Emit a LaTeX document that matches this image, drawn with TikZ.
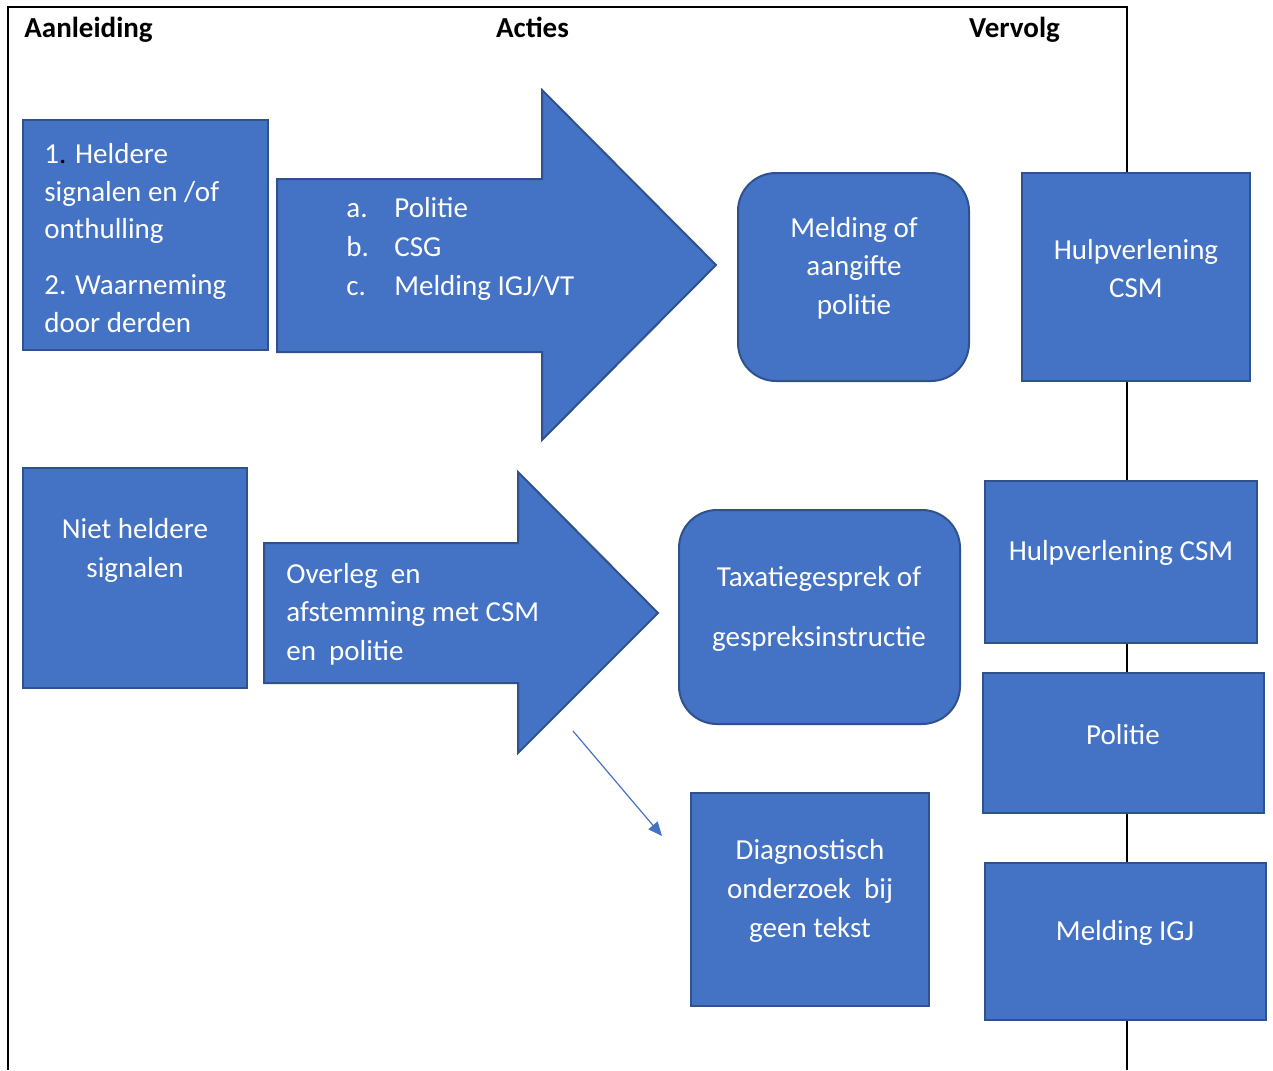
\documentclass[tikz,border=0pt]{standalone}
\usepackage{fontspec}
\setmainfont{Carlito}
\usetikzlibrary{arrows.meta,calc}
\definecolor{boxfill}{HTML}{4472C4}
\definecolor{boxline}{HTML}{2F528F}
\tikzset{
  block/.style={
    draw=boxline,
    fill=boxfill,
    line width=1pt,
    inner sep=0pt
  },
  roundblock/.style={block,rounded corners=19pt},
  bigarrow/.style={
    draw=boxline,
    fill=boxfill,
    line width=1pt,
    line join=miter
  },
  boxtext/.style={
    text=white,
    font=\fontsize{14.5}{19.3}\selectfont,
    align=center,
    inner sep=0pt
  },
  listtext/.style={boxtext,align=left,anchor=west},
  header/.style={
    text=black,
    font=\fontsize{14.5}{18}\selectfont\bfseries,
    inner sep=0pt,
    anchor=base
  },
  frameline/.style={draw=black,line width=1.2pt},
  pointer/.style={
    -{Triangle[length=7pt,width=6pt]},
    draw=boxfill,
    line width=0.6pt
  }
}

\begin{document}
\begin{tikzpicture}[x=0.5pt,y=-0.5pt]
  \useasboundingbox (0,0) rectangle (1273,1070);

  % Open frame and the column line behind the boxes.
  \draw[frameline] (8,1070) -- (8,7) -- (1127,7) -- (1127,1070);

  % Column headers.
  \node[header] (aanleiding) at (88.5,38) {Aanleiding};
  \node[header] (acties) at (532.5,38) {Acties};
  \node[header] (vervolg) at (1014.5,38) {Vervolg};

  % Upper row: clear signals.
  \node[block,minimum width=122.5pt,minimum height=115pt] (heldere) at (145.5,235) {};
  \node[boxtext,align=left,anchor=west,font=\fontsize{14.5}{18.8}\selectfont] (helderetxt) at (44,238)
    {1\textcolor{black}{.} Heldere\\signalen en /of\\onthulling\\[9pt]2. Waarneming\\door derden};

  \draw[bigarrow] (277,179) -- (542,179) -- (542,90) -- (716,265)
    -- (542,440) -- (542,352) -- (277,352) -- cycle;
  \node[listtext] (actiestxt) at (346,249)
    {\makebox[24pt][l]{a.}Politie\\\makebox[24pt][l]{b.}CSG\\\makebox[24pt][l]{c.}Melding IGJ/VT};

  \node[roundblock,minimum width=115.5pt,minimum height=104pt] (melding) at (853.5,277) {};
  \node[boxtext] (meldingtxt) at (854,268) {Melding of\\aangifte\\politie};

  \node[block,minimum width=114pt,minimum height=104pt] (hulpeen) at (1136,277) {};
  \node[boxtext] (hulpeentxt) at (1136,268.5) {Hulpverlening\\CSM};

  % Lower row: unclear signals.
  \node[block,minimum width=112pt,minimum height=110pt] (nietheldere) at (135,578) {};
  \node[boxtext] (niethelderetxt) at (135,550.5) {Niet heldere\\signalen};

  \draw[bigarrow] (264,543) -- (518,543) -- (518,472) -- (658,613)
    -- (518,753) -- (518,683) -- (264,683) -- cycle;
  \node[listtext] (overlegtxt) at (286,614)
    {Overleg\ \ en\\afstemming met CSM\\en\ \ politie};

  \node[roundblock,minimum width=140.5pt,minimum height=107pt] (taxatie) at (819.5,617) {};
  \node[boxtext] (taxatietxt) at (819,609) {Taxatiegesprek of\\[11pt]gespreksinstructie};

  \node[block,minimum width=119pt,minimum height=106.5pt] (diagnostisch) at (810,899.5) {};
  \node[boxtext] (diagnostischtxt) at (810,891) {Diagnostisch\\onderzoek\ \ bij\\geen tekst};

  \node[block,minimum width=136pt,minimum height=81pt] (hulptwee) at (1121,562) {};
  \node[boxtext] (hulptweetxt) at (1121,553) {Hulpverlening CSM};

  \node[block,minimum width=140.5pt,minimum height=70pt] (politie) at (1123.5,743) {};
  \node[boxtext] (politietxt) at (1123,735) {Politie};

  \node[block,minimum width=140.5pt,minimum height=78.5pt] (meldingigj) at (1125.5,941.5) {};
  \node[boxtext] (meldingigjtxt) at (1125,933) {Melding IGJ};

  % Thin pointer towards the diagnostic box.
  \coordinate (pointerstart) at (573,731);
  \coordinate (pointerend) at (662,836);
  \draw[pointer] (pointerstart) -- (pointerend);

\end{tikzpicture}
\end{document}
